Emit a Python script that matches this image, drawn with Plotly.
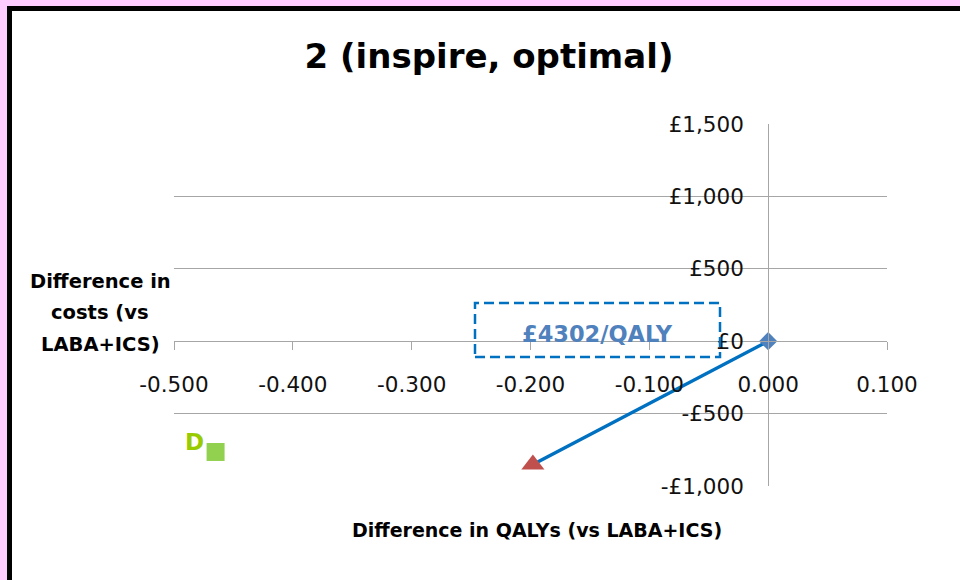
import plotly.graph_objects as go

# Incremental results versus LABA+ICS
qaly_diff = [0.0, -0.198]
cost_diff = [0.0, -851.8]
strategy_d_qaly = [-0.465]
strategy_d_cost = [-765]
strategy_d_label = ["D"]

x_ticks = [-0.5, -0.4, -0.3, -0.2, -0.1, 0.0, 0.1]
y_ticks = [-1000, -500, 0, 500, 1000, 1500]
y_tick_labels = ["-£1,000", "-£500", "£0", "£500", "£1,000", "£1,500"]
y_title_lines = ["Difference in", "costs (vs", "LABA+ICS)"]

icer = cost_diff[1] / qaly_diff[1]

W, H = 960, 580
ML, MR, MT, MB = 174, 73, 124, 94
PW, PH = W - ML - MR, H - MT - MB


def px_x(p):
    return (p - ML) / PW


def px_y(p):
    return (H - MB - p) / PH


FONT = "DejaVu Sans"
GRID = "#a6a6a6"

fig = go.Figure()

fig.add_trace(go.Scatter(
    x=qaly_diff, y=cost_diff, mode="lines",
    line=dict(color="#0070c0", width=3.5), hoverinfo="skip", showlegend=False,
))
fig.add_trace(go.Scatter(
    x=[qaly_diff[0]], y=[cost_diff[0]], mode="markers",
    marker=dict(symbol="diamond", size=14, color="#4f81bd"), showlegend=False,
))
fig.add_trace(go.Scatter(
    x=[qaly_diff[1]], y=[cost_diff[1]], mode="markers",
    marker=dict(symbol="triangle-up", size=20, color="#c0504d"), showlegend=False,
))
fig.add_trace(go.Scatter(
    x=strategy_d_qaly, y=strategy_d_cost, mode="markers",
    marker=dict(symbol="square", size=18, color="#92d050"), showlegend=False,
))

annotations = [
    dict(x=strategy_d_qaly[0], y=strategy_d_cost[0], xref="x", yref="y",
         text="<b>%s</b>" % strategy_d_label[0], showarrow=False,
         xanchor="center", yanchor="middle",
         xshift=-21, yshift=10, font=dict(family=FONT, size=23, color="#99cc00")),
    dict(x=px_x(597), y=px_y(334), xref="paper", yref="paper",
         text="<b>£%.0f/QALY</b>" % icer, showarrow=False,
         xanchor="center", yanchor="middle",
         font=dict(family=FONT, size=22.5, color="#4f81bd")),
    dict(x=px_x(537), y=px_y(530), xref="paper", yref="paper",
         text="<b>Difference in QALYs (vs LABA+ICS)</b>", showarrow=False,
         xanchor="center", yanchor="middle",
         font=dict(family=FONT, size=19, color="#000000")),
]
for line_text, line_y in zip(y_title_lines, [281, 312, 344]):
    annotations.append(dict(
        x=px_x(100), y=px_y(line_y), xref="paper", yref="paper",
        text="<b>%s</b>" % line_text, showarrow=False,
        xanchor="center", yanchor="middle",
        font=dict(family=FONT, size=19.5, color="#000000")))

shapes = [
    # dashed callout box around the ICER
    dict(type="rect", xref="paper", yref="paper",
         x0=px_x(475), x1=px_x(720), y0=px_y(357), y1=px_y(303),
         line=dict(color="#0070c0", width=2.5, dash="10px,5px"),
         fillcolor="rgba(0,0,0,0)"),
    # frame: pink outer band, black inner line on top and left
    dict(type="rect", xref="paper", yref="paper", layer="above",
         x0=px_x(0), x1=px_x(W), y0=px_y(0), y1=px_y(6),
         line=dict(width=0), fillcolor="#ffccff"),
    dict(type="rect", xref="paper", yref="paper", layer="above",
         x0=px_x(0), x1=px_x(7), y0=px_y(0), y1=px_y(H),
         line=dict(width=0), fillcolor="#ffccff"),
    dict(type="rect", xref="paper", yref="paper", layer="above",
         x0=px_x(7), x1=px_x(W), y0=px_y(6), y1=px_y(11),
         line=dict(width=0), fillcolor="#000000"),
    dict(type="rect", xref="paper", yref="paper", layer="above",
         x0=px_x(7), x1=px_x(12), y0=px_y(6), y1=px_y(H),
         line=dict(width=0), fillcolor="#000000"),
]

fig.update_layout(
    width=W, height=H,
    margin=dict(l=ML, r=MR, t=MT, b=MB),
    paper_bgcolor="#ffffff", plot_bgcolor="#ffffff",
    font=dict(family=FONT, color="#000000"),
    title=dict(text="<b>2 (inspire, optimal)</b>", x=489 / W, xanchor="center",
               y=1 - 56 / H, yanchor="middle",
               font=dict(family=FONT, size=34, color="#000000")),
    xaxis=dict(
        range=[-0.5, 0.1], anchor="free", position=0.4,
        tickvals=x_ticks, ticktext=["%.3f" % v for v in x_ticks],
        showline=True, linecolor=GRID, linewidth=1,
        ticks="outside", ticklen=8, tickcolor=GRID,
        showgrid=False, zeroline=False, ticklabelstandoff=16,
        tickfont=dict(family=FONT, size=21.5, color="#111111"),
    ),
    yaxis=dict(
        range=[-1000, 1500], anchor="free", position=5 / 6,
        tickvals=y_ticks, ticktext=y_tick_labels,
        showline=True, linecolor=GRID, linewidth=1,
        ticks="", showgrid=True, gridcolor=GRID, gridwidth=1,
        zeroline=False, ticklabelstandoff=20,
        tickfont=dict(family=FONT, size=21.5, color="#111111"),
    ),
    annotations=annotations,
    shapes=shapes,
)

fig.write_html("out.html")
